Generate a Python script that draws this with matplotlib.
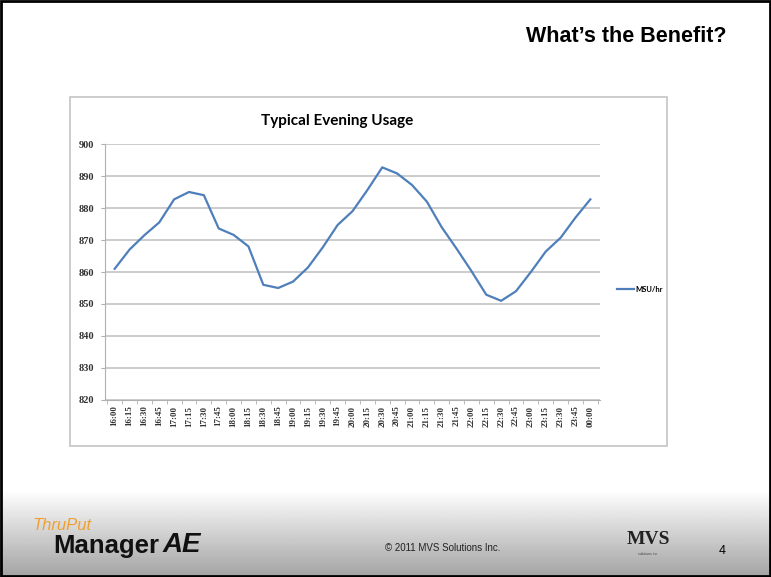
"""Slide 4 of the ThruPut Manager deck: typical evening MSU/hr usage line chart."""
import matplotlib
matplotlib.use("Agg")
import matplotlib.pyplot as plt  # noqa: E402
import numpy as np  # noqa: E402
from matplotlib.patches import Rectangle  # noqa: E402

TIMES = ["16:00", "16:15", "16:30", "16:45", "17:00", "17:15", "17:30", "17:45",
         "18:00", "18:15", "18:30", "18:45", "19:00", "19:15", "19:30", "19:45",
         "20:00", "20:15", "20:30", "20:45", "21:00", "21:15", "21:30", "21:45",
         "22:00", "22:15", "22:30", "22:45", "23:00", "23:15", "23:30", "23:45",
         "00:00"]
MSU_HR = [861, 867, 871.5, 875.5, 882.7, 885, 884, 873.6,
          871.6, 868, 856, 855, 857, 861.4, 867.7, 874.7,
          879, 885.6, 892.7, 890.8, 887.2, 882, 874, 867.3,
          860.3, 852.9, 851, 854, 860, 866.4, 870.7, 877,
          882.7]
Y_TICKS = [820, 830, 840, 850, 860, 870, 880, 890, 900]

W, H = 771, 577
fig = plt.figure(figsize=(W / 100, H / 100), dpi=100)

# slide background, in pixel coordinates
bg = fig.add_axes([0, 0, 1, 1])
grad = np.linspace(1.0, 0.64, 100).reshape(-1, 1)
bg.imshow(grad, cmap="gray", vmin=0, vmax=1, extent=(0, W, H, 490), aspect="auto")
bg.set_xlim(0, W)
bg.set_ylim(H, 0)
bg.axis("off")
bg.add_patch(Rectangle((1, 1), W - 2, H - 2, fill=False, ec="black", lw=2))
bg.add_patch(Rectangle((70, 97), 597, 349, fc="white", ec="#c4c4c4", lw=1.2))

bg.text(727, 37, "What\u2019s the Benefit?", ha="right", va="center",
        fontsize=15.5, fontweight="bold", family="Liberation Sans")
bg.text(443, 548, "\u00a9 2011 MVS Solutions Inc.", ha="center", va="center",
        fontsize=7, family="Liberation Sans", color="#222222")
bg.text(722, 551, "4", ha="center", va="center", fontsize=9, family="Liberation Sans")
bg.text(648, 540, "MVS", ha="center", va="center", fontsize=14,
        family="Liberation Serif", fontweight="bold", color="#222222")
bg.text(648, 554, "solutions inc", ha="center", va="center", fontsize=2.5,
        family="Liberation Sans", color="#444444")
bg.text(32, 525, "ThruPut", ha="left", va="center", fontsize=12, style="italic",
        family="Liberation Sans", color="#f0a030")
bg.text(53, 546, "Manager", ha="left", va="center", fontsize=18.5, fontweight="heavy",
        family="Liberation Sans", color="#111111")
bg.text(163, 545, "AE", ha="left", va="center", fontsize=20, fontweight="bold",
        style="italic", family="Liberation Sans", color="#111111")

# chart
ax = fig.add_axes([105 / W, 1 - 400 / H, (600 - 105) / W, 256 / H])
x = np.arange(len(TIMES))
ax.plot(x, MSU_HR, color="#4f7fbb", lw=1.6, label="MSU/hr")
ax.set_xlim(-0.65, len(TIMES) - 0.35)
ax.set_ylim(820, 900)
ax.set_yticks(Y_TICKS)
ax.set_xticks(x)
ax.set_xticklabels(TIMES, rotation=90)
ax.set_xticks(np.arange(-0.5, len(TIMES)), minor=True)
ax.yaxis.grid(True, color="#c8c8c8", lw=1.3)
ax.set_axisbelow(True)
for s in ["top", "right"]:
    ax.spines[s].set_visible(False)
for s in ["left", "bottom"]:
    ax.spines[s].set_color("#b0b0b0")
ax.tick_params(axis="x", which="major", length=0, pad=4)
ax.tick_params(axis="x", which="minor", length=3, color="#b0b0b0")
ax.tick_params(axis="y", length=3, color="#b0b0b0", pad=5)
for lbl in ax.get_xticklabels() + ax.get_yticklabels():
    lbl.set_family("Liberation Serif")
    lbl.set_fontweight("bold")
    lbl.set_color("#333333")
for lbl in ax.get_xticklabels():
    lbl.set_fontsize(6.5)
for lbl in ax.get_yticklabels():
    lbl.set_fontsize(7.5)

fig.text(337 / W, 1 - 121 / H, "Typical Evening Usage", ha="center", va="center",
         fontsize=11, fontweight="bold", family="Lato")
ax.legend(loc="center left", bbox_to_anchor=(617 / W, 1 - 289 / H),
          bbox_transform=fig.transFigure, frameon=False, borderpad=0,
          borderaxespad=0, handlelength=2.2, handletextpad=0.2,
          prop={"family": "Lato", "weight": "bold", "size": 5.5})

fig.savefig("out.png", dpi=100)
